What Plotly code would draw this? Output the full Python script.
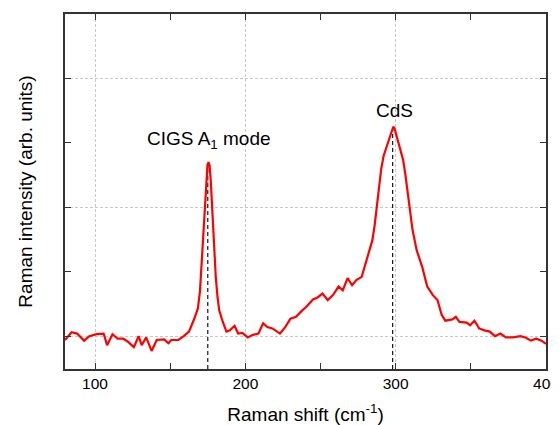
import plotly.graph_objects as go

raman_shift = [80, 84.4, 88, 92.7, 96.2, 101, 105.7, 108, 111.6, 115, 118.7, 122, 125.8, 129, 131, 134,
               137.6, 141, 146, 148.8, 150.7, 155.4, 159, 162.5, 166, 168.4, 169.8, 170.8, 172, 173.2, 174.2, 174.8,
               175.5, 176.2, 177, 177.9, 179, 180.3, 181.5, 182.6, 185, 187.4, 189.7, 192.8, 195.2, 198, 201.6,
               205, 208.7, 211.8, 214.6, 218, 223, 226.5, 230, 233.7, 237, 240.7, 245, 248, 251.3, 254.8,
               258.4, 262, 264.8, 268, 271, 273.8, 277.4, 281, 284.5, 286, 287.5, 289, 290.4, 292, 294, 296.3,
               297.5, 298.4, 299.3, 300.3, 301.5, 302.7, 305, 306.5, 308, 309.5, 311.2, 314, 317.6, 321, 324.6,
               327.8, 330.6, 333, 337.7, 340, 342.4, 347.2, 349.5, 352.4, 355.5, 359, 362.6, 366, 369.7, 373.3,
               378, 383, 386.3, 390, 393.5, 397, 400]
intensity = [-0.06, 0.06, 0.04, -0.07, 0.0, 0.03, 0.04, -0.14, 0.03, -0.04, -0.04, -0.09, -0.17, 0.0, -0.14,
             -0.02, -0.23, -0.06, -0.05, -0.11, -0.06, -0.06, 0.0, 0.07, 0.27, 0.43, 0.7, 1.08, 1.6, 2.11, 2.45, 2.66,
             2.7, 2.65, 2.4, 2.0, 1.45, 0.92, 0.6, 0.40, 0.22, 0.07, 0.09, 0.16, 0.04, 0.05, -0.02,
             0.02, 0.04, 0.20, 0.14, 0.12, 0.04, 0.14, 0.27, 0.30, 0.38, 0.46, 0.57, 0.60, 0.66, 0.56,
             0.64, 0.77, 0.71, 0.90, 0.79, 0.87, 0.92, 1.23, 1.49, 1.72, 2.0, 2.33, 2.60, 2.8, 2.94, 3.1,
             3.2, 3.25, 3.22, 3.14, 3.02, 2.91, 2.73, 2.5, 2.21, 1.93, 1.65, 1.33, 1.08, 0.77, 0.64,
             0.56, 0.33, 0.24, 0.26, 0.30, 0.22, 0.21, 0.17, 0.24, 0.12, 0.09, 0.07, 0.0, 0.04, -0.02,
             -0.02, 0.0, -0.02, -0.07, -0.04, -0.07, -0.12]

peak_positions = [175, 298]
peak_heights = [2.68, 3.25]
peak_labels = ["CIGS A<sub>1</sub> mode", "CdS"]
label_x = [175.6, 299.5]
label_y = [3.04, 3.51]

x_ticks = [100, 200, 300, 400]
x_range = [79.999, 400.01]
y_range = [-0.51, 5.0]

FONT = "Liberation Sans, Arial"

fig = go.Figure()
for xp, yp in zip(peak_positions, peak_heights):
    fig.add_trace(go.Scatter(x=[xp, xp], y=[y_range[0], yp], mode="lines",
                             line=dict(color="black", width=1.1, dash="4px,3px"),
                             showlegend=False, hoverinfo="skip"))
fig.add_trace(go.Scatter(x=raman_shift, y=intensity, mode="lines",
                         line=dict(color="#ff0000", width=2.2), showlegend=False))

for lx, ly, lt in zip(label_x, label_y, peak_labels):
    fig.add_annotation(x=lx, y=ly, text=lt, showarrow=False,
                       font=dict(family=FONT, size=19, color="black"))

axis_common = dict(showline=True, linecolor="#333333", linewidth=1.5, mirror="ticks",
                   ticks="inside", ticklen=6, tickcolor="#333333",
                   showgrid=True, gridcolor="#c8c8c8", griddash="3px,2px", gridwidth=1,
                   zeroline=False, automargin=False)

fig.update_xaxes(range=x_range, tickmode="array", tickvals=x_ticks, ticktext=[str(t) for t in x_ticks],
                 ticklabeloverflow="allow", **axis_common,
                 minor=dict(dtick=50, tick0=0, ticks="inside", ticklen=6, tickcolor="#333333", showgrid=False),
                 tickfont=dict(family=FONT, size=15.5, color="black"),
                 title=dict(text="Raman shift (cm<sup>-1</sup>)", standoff=16,
                            font=dict(family=FONT, size=19, color="black")))
fig.update_yaxes(range=y_range, tick0=0, dtick=2, showticklabels=False, **axis_common,
                 minor=dict(dtick=1, tick0=0, ticks="inside", ticklen=6, tickcolor="#333333", showgrid=False),
                 title=dict(text="Raman intensity (arb. units)", standoff=26,
                            font=dict(family=FONT, size=19, color="black")))

fig.update_layout(width=551, height=417, margin=dict(l=57, r=13, t=6, b=56),
                  plot_bgcolor="white", paper_bgcolor="white")

fig.write_html("out.html")
